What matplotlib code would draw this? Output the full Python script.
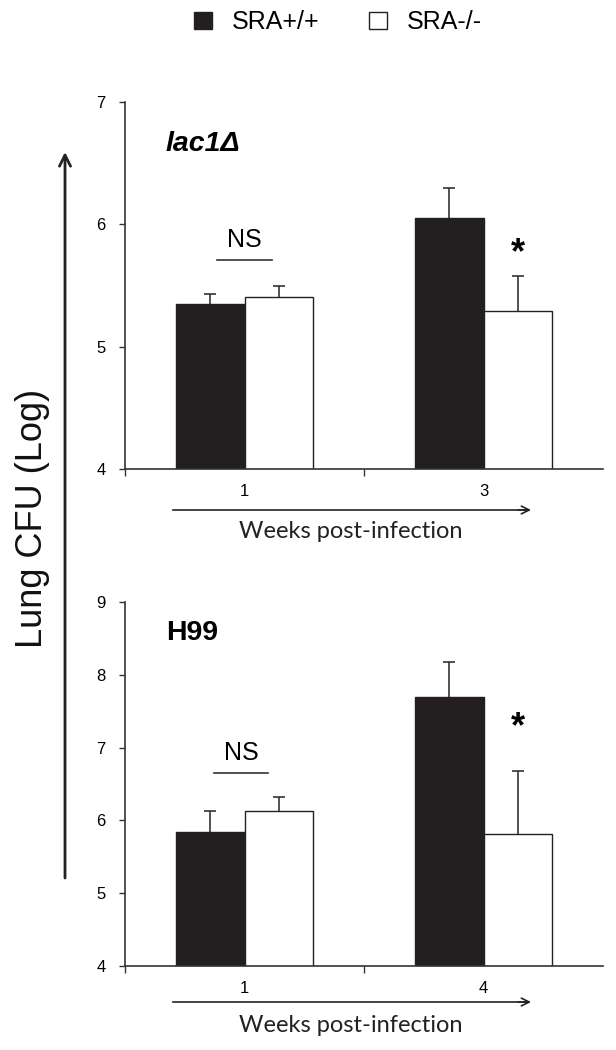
import matplotlib.pyplot as plt
import numpy as np

groups = ["SRA+/+", "SRA-/-"]
colors = ["#231f20", "white"]

# panel 1: lac1 delta
weeks_top = ["1", "3"]
wt_top = [5.35, 6.05]
wt_top_err = [0.08, 0.25]
ko_top = [5.41, 5.29]
ko_top_err = [0.09, 0.29]

# panel 2: H99
weeks_bot = ["1", "4"]
wt_bot = [5.84, 7.69]
wt_bot_err = [0.29, 0.49]
ko_bot = [6.13, 5.81]
ko_bot_err = [0.19, 0.87]

W, H = 616, 1050
fig = plt.figure(figsize=(W / 100, H / 100), dpi=100)
plt.rcParams['font.family'] = ['Liberation Sans', 'DejaVu Sans']
axcol = "#333333"
bw = 0.285


def panel(ax, weeks, wt, wte, ko, koe, ymax, title, title_y, ns_y, star_y, ns_x):
    x = np.arange(len(weeks))
    b1 = ax.bar(x - bw / 2, wt, bw, color=colors[0], edgecolor=colors[0],
                linewidth=1, label=groups[0], zorder=2)
    b2 = ax.bar(x + bw / 2, ko, bw, color=colors[1], edgecolor="#222222",
                linewidth=1, label=groups[1], zorder=2)
    for xs, vals, errs in [(x - bw / 2, wt, wte), (x + bw / 2, ko, koe)]:
        _, caps, _ = ax.errorbar(xs, vals, yerr=[np.zeros(len(vals)), errs], fmt="none",
                                 ecolor="#333333", elinewidth=1.2, capsize=4,
                                 capthick=1.2, zorder=1)
        caps[0].set_visible(False)  # no cap at bar top
    ax.set_ylim(4, ymax)
    ax.set_xlim(-0.5, 1.5)
    ax.set_yticks(range(4, ymax + 1))
    ax.set_xticks([-0.5, 0.5])
    ax.set_xticklabels([])
    ax.set_xticks(x, minor=True)
    ax.set_xticklabels(weeks, minor=True)
    ax.tick_params(axis="x", which="minor", length=0, pad=11, labelsize=12)
    ax.tick_params(axis="x", which="major", length=5, width=1, color=axcol)
    ax.tick_params(axis="y", length=4, width=1, color=axcol, pad=10, labelsize=12)
    for s in ["top", "right"]:
        ax.spines[s].set_visible(False)
    for s in ["left", "bottom"]:
        ax.spines[s].set_color(axcol)
        ax.spines[s].set_linewidth(1.2)
    ax.text(-0.33, title_y, title, fontsize=20.5, fontweight="bold",
            fontstyle="italic" if "lac" in title else "normal", va="center", ha="left")
    ax.plot(ns_x, [ns_y, ns_y], color=axcol, lw=1.2)
    ax.text(np.mean(ns_x), ns_y + 0.022 * (ymax - 4), "NS", fontsize=18,
            ha="center", va="bottom")
    ax.text(x[1] + bw / 2, star_y, "*", fontsize=26, fontweight="bold",
            ha="center", va="center")
    return b1, b2


ax1 = fig.add_axes([125 / W, 1 - 469 / H, 478 / W, 367 / H])
b1, b2 = panel(ax1, weeks_top, wt_top, wt_top_err, ko_top, ko_top_err, 7,
               "lac1\u0394", 6.66, 5.71, 5.76, [-0.115, 0.115])
ax2 = fig.add_axes([125 / W, 1 - 966 / H, 478 / W, 364 / H])
panel(ax2, weeks_bot, wt_bot, wt_bot_err, ko_bot, ko_bot_err, 9,
      "H99", 8.57, 6.65, 7.28, [-0.127, 0.099])

# axis arrows and labels
for ya, yt in [(510, 532), (1002, 1025)]:
    fig.add_artist(plt.Line2D([173 / W, 528 / W], [1 - ya / H, 1 - ya / H],
                              color="#222222", lw=1.2))
    ax1.annotate("", xy=(531 / W, 1 - ya / H), xytext=(518 / W, 1 - ya / H),
                 xycoords="figure fraction", textcoords="figure fraction",
                 arrowprops=dict(arrowstyle="->", color="#222222", lw=1.2,
                                 mutation_scale=14, shrinkA=0, shrinkB=0))
    fig.text(351 / W, 1 - yt / H, "Weeks post-infection", fontsize=17,
             family="Lato", ha="center", va="center", color="#222222")

ax1.annotate("", xy=(65 / W, 1 - 152 / H), xytext=(65 / W, 1 - 878 / H),
             xycoords="figure fraction", textcoords="figure fraction",
             arrowprops=dict(arrowstyle="->", color="#222222", lw=2,
                             mutation_scale=20, shrinkA=0, shrinkB=0))
fig.text(33 / W, 1 - 518 / H, "Lung CFU (Log)", fontsize=26, rotation=90,
         ha="center", va="center", color="#111111")

fig.legend([b1, b2], groups, loc="center", bbox_to_anchor=(338 / W, 1 - 22 / H),
           ncol=2, frameon=False, fontsize=18, handlelength=0.7, handleheight=0.7,
           handletextpad=0.8, columnspacing=2.0)

fig.savefig("out.png", dpi=100)
